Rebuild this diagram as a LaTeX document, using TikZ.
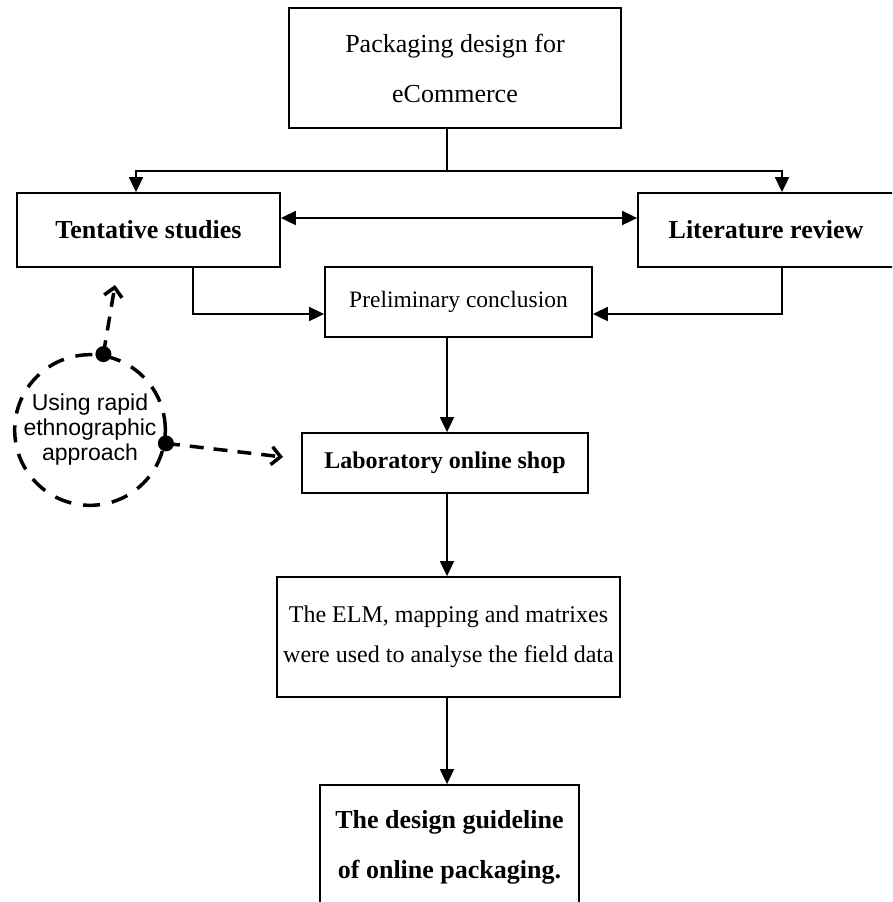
\documentclass[tikz,border=0pt]{standalone}
\usepackage{fontspec}
\setmainfont{Liberation Serif}
\newfontfamily\arialfont{Liberation Sans}
\usetikzlibrary{arrows.meta,positioning,calc}
\begin{document}
\begin{tikzpicture}[x=1pt,y=-1pt,
  box/.style={draw,line width=1.8pt,rectangle,inner sep=0pt,align=center},
  arr/.style={line width=1.8pt,-{Triangle[length=15pt,width=14pt]}},
  arrboth/.style={line width=1.8pt,{Triangle[length=15pt,width=14pt]}-{Triangle[length=15pt,width=14pt]}},
  dline/.style={line width=3.5pt,dash pattern=on 14pt off 10pt,-{Straight Barb[length=9pt,width=18pt,line width=3.5pt]}},
  dot/.style={fill=black}
]
\useasboundingbox (0,0) rectangle (892,902);
\begin{scope}
\clip (0,0) rectangle (892,902);
% boxes
\node[box,minimum width=332pt,minimum height=120pt,font=\fontsize{26}{50}\selectfont] (top) at (455,68) {Packaging design for\\eCommerce};
\node[box,minimum width=263pt,minimum height=74pt,font=\fontsize{26}{30}\selectfont\bfseries] (tent) at (148.5,230) {Tentative studies};
\node[box,minimum width=256pt,minimum height=74pt,font=\fontsize{26}{30}\selectfont\bfseries] (lit) at (766,230) {Literature review};
\node[box,minimum width=267pt,minimum height=70pt,font=\fontsize{23.5}{28}\selectfont] (pre) at (458.5,302) {Preliminary conclusion};
\node[box,minimum width=286pt,minimum height=60pt,font=\fontsize{24}{28}\selectfont\bfseries] (lab) at (445,463) {Laboratory online shop};
\node[box,minimum width=343pt,minimum height=120pt,font=\fontsize{24}{40}\selectfont] (elm) at (448.5,637) {The ELM, mapping and matrixes\\were used to analyse the field data};
\node[box,minimum width=259pt,minimum height=124pt,font=\fontsize{26}{50}\selectfont\bfseries] (fin) at (449.5,847) {The design guideline\\of online packaging.};
\node[draw,circle,minimum size=150pt,inner sep=0pt,line width=3.5pt,dash pattern=on 17pt off 12pt,align=center,font=\arialfont\fontsize{23}{25}\selectfont] (circ) at (90,430) {Using rapid\\ethnographic\\approach};
% coordinates
\coordinate (J) at (447,171);
\coordinate (L) at (136,171);
\coordinate (R) at (782,171);
\coordinate (tb) at (193,314);
\coordinate (lb) at (782,314);
\coordinate (t1) at (115,285);
\coordinate (t2) at (283,457);
% connectors
\draw[line width=1.8pt] (top.south -| J) -- (J);
\draw[arr] (J) -- (L) -- (L |- tent.north);
\draw[arr] (J) -- (R) -- (R |- lit.north);
\draw[arrboth] ([yshift=12pt]tent.east) -- ([yshift=12pt]lit.west);
\draw[arr] (tent.south -| tb) -- (tb) -- (tb -| pre.west);
\draw[arr] (lit.south -| lb) -- (lb) -- (lb -| pre.east);
\draw[arr] (pre.south -| J) -- (lab.north -| J);
\draw[arr] (lab.south -| J) -- (elm.north -| J);
\draw[arr] (elm.south -| J) -- (fin.north -| J);
% dashed arrows
\draw[dline] (circ.80) -- (t1);
\draw[dline] (circ.-10) -- (t2);
\fill[dot] (circ.80) circle[radius=8pt];
\fill[dot] (circ.-10) circle[radius=8pt];
\end{scope}
\end{tikzpicture}
\end{document}
